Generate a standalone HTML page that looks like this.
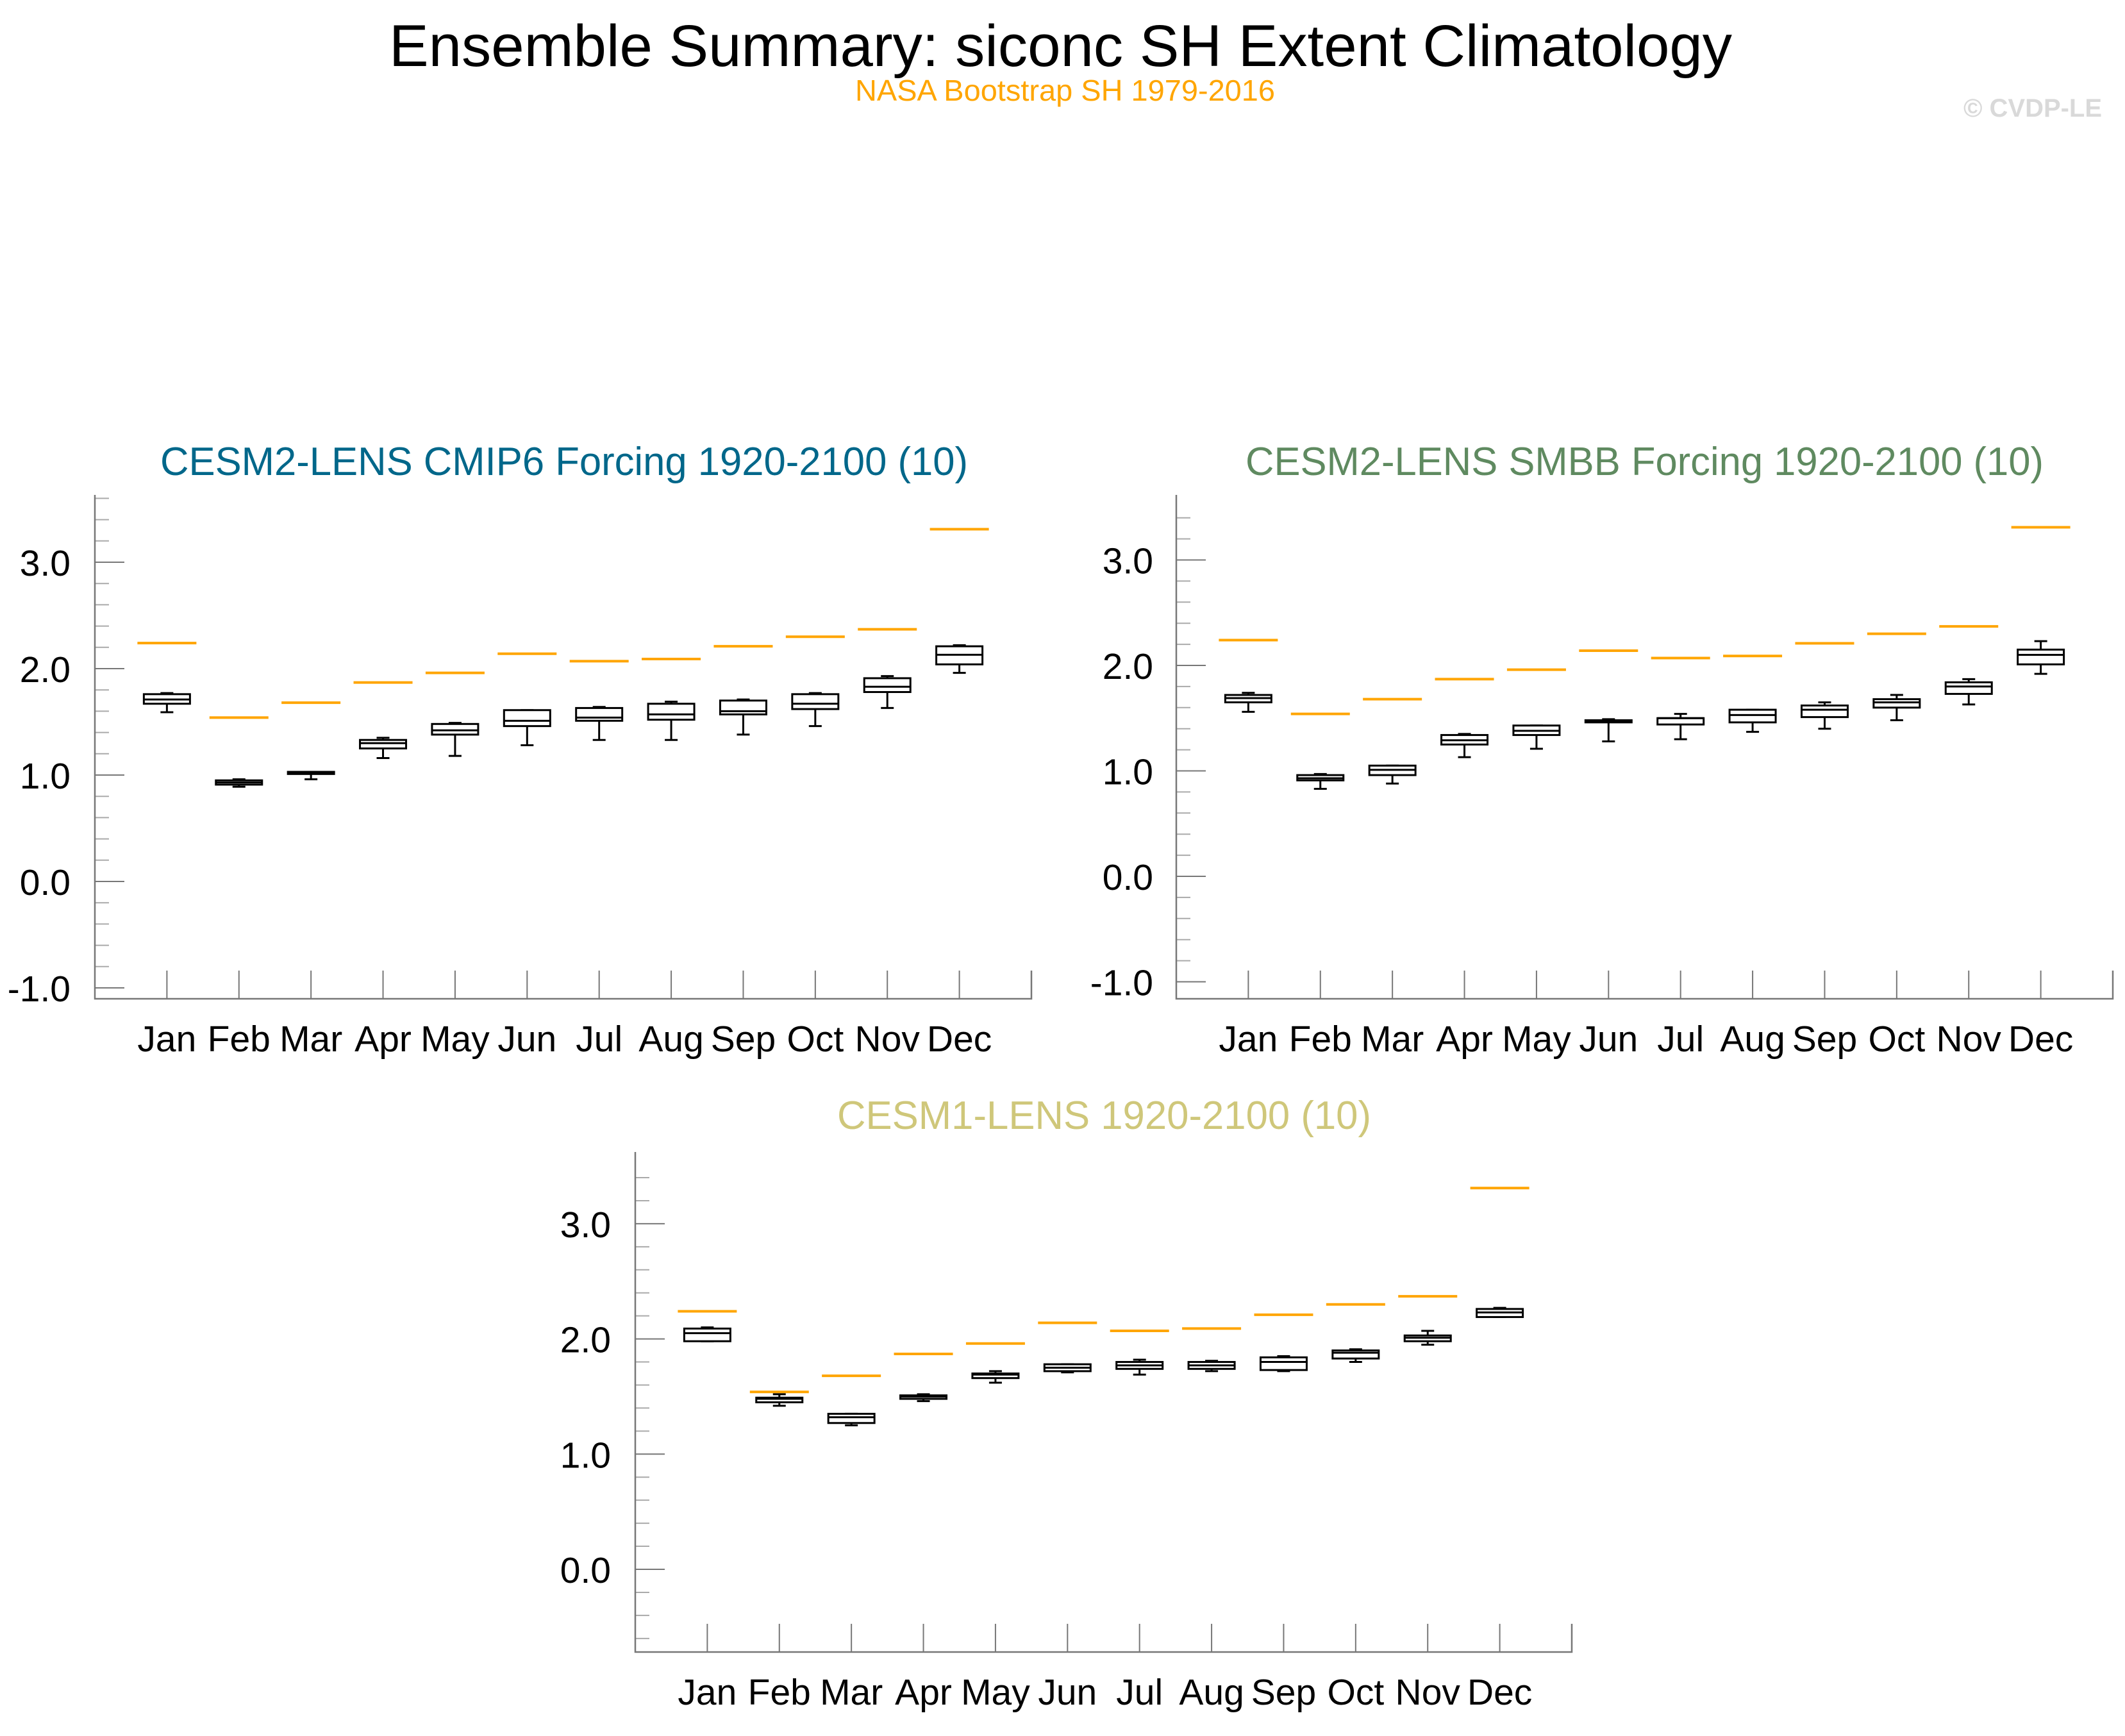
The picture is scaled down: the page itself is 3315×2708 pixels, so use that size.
<!DOCTYPE html>
<html><head><meta charset="utf-8">
<style>
html,body{margin:0;padding:0;background:#fff;}
svg{display:block;font-family:"Liberation Sans",Arial,sans-serif;}
</style></head>
<body>
<svg id="chart" width="3315" height="2708" viewBox="0 0 3315 2708" xmlns="http://www.w3.org/2000/svg">
<rect width="3315" height="2708" fill="#fff"/>
<text x="607" y="103" font-size="92" textLength="2095" lengthAdjust="spacingAndGlyphs" fill="#000">Ensemble Summary: siconc SH Extent Climatology</text>
<text x="1334" y="157" font-size="46" textLength="655" lengthAdjust="spacingAndGlyphs" fill="#FFA500">NASA Bootstrap SH 1979-2016</text>
<text x="3063" y="182" font-size="40" font-weight="bold" textLength="216" lengthAdjust="spacingAndGlyphs" fill="#d9d9d9">© CVDP-LE</text>
<g id="panels"></g>
</svg>
<script>
const months = ["Jan","Feb","Mar","Apr","May","Jun","Jul","Aug","Sep","Oct","Nov","Dec"];
const yTickValues = [-1, 0, 1, 2, 3];
const yTickLabels = ["-1.0","0.0","1.0","2.0","3.0"];
const obsValues = [2.24,1.54,1.68,1.87,1.96,2.14,2.07,2.09,2.21,2.30,2.37,3.31];

const p1Low  = [1.59,0.89,0.96,1.16,1.18,1.28,1.33,1.33,1.38,1.46,1.63,1.96];
const p1Q1   = [1.67,0.91,1.01,1.25,1.38,1.46,1.51,1.52,1.57,1.62,1.78,2.04];
const p1Med  = [1.71,0.93,1.02,1.30,1.42,1.51,1.54,1.57,1.60,1.67,1.83,2.13];
const p1Q3   = [1.76,0.95,1.03,1.33,1.48,1.61,1.63,1.67,1.70,1.76,1.91,2.21];
const p1High = [1.77,0.96,1.03,1.35,1.49,1.61,1.64,1.69,1.71,1.77,1.93,2.22];

const p2Low  = [1.56,0.83,0.88,1.13,1.21,1.28,1.30,1.37,1.40,1.48,1.63,1.92];
const p2Q1   = [1.65,0.91,0.96,1.25,1.34,1.46,1.44,1.46,1.51,1.60,1.73,2.01];
const p2Med  = [1.69,0.93,1.01,1.29,1.38,1.47,1.50,1.53,1.58,1.65,1.80,2.10];
const p2Q3   = [1.72,0.96,1.05,1.34,1.43,1.48,1.50,1.58,1.62,1.68,1.84,2.15];
const p2High = [1.74,0.97,1.05,1.35,1.43,1.49,1.54,1.58,1.65,1.72,1.87,2.23];

const p3Low  = [1.98,1.42,1.25,1.46,1.62,1.71,1.69,1.72,1.72,1.80,1.95,2.19];
const p3Q1   = [1.98,1.45,1.27,1.48,1.66,1.72,1.74,1.74,1.73,1.83,1.98,2.19];
const p3Med  = [2.05,1.48,1.32,1.50,1.69,1.75,1.77,1.77,1.80,1.88,2.01,2.23];
const p3Q3   = [2.09,1.49,1.35,1.51,1.70,1.78,1.80,1.80,1.84,1.90,2.03,2.26];
const p3High = [2.10,1.52,1.35,1.52,1.72,1.78,1.82,1.81,1.85,1.91,2.07,2.27];

const NS = "http://www.w3.org/2000/svg";
const root = document.getElementById("panels");
function mk(tag, attrs, parent){
  const e = document.createElementNS(NS, tag);
  for (const k in attrs) e.setAttribute(k, attrs[k]);
  parent.appendChild(e);
  return e;
}

function panel(cfg, low, q1, med, q3, high, idx){
  const g = mk("g", {}, root);
  
  
  const xs = i => cfg.left + (cfg.right - cfg.left) * (i + 1) / 13;
  const ys = v => cfg.y0 - v * cfg.unit;
  const t = mk("text", {x: cfg.tx, y: cfg.ty, "font-size": 62, fill: cfg.color, textLength: cfg.tw, lengthAdjust: "spacingAndGlyphs"}, g);
  t.textContent = cfg.title;
  
  
  for (let k = -10; k <= 20; k++) {
    const v = k * 0.2;
    const y = ys(v);
    if (y < cfg.top + 5 || y > cfg.bottom - 5) continue;
    const major = Math.abs(v - Math.round(v)) < 1e-6;
    const tk = mk("line", {x1: cfg.left, x2: cfg.left + (major ? 46 : 22), y1: y, y2: y, stroke: major ? "#777" : "#aaa", "stroke-width": 2}, g);
    
    
  }
  yTickValues.forEach((v, i) => {
    const y = ys(v);
    if (y > cfg.bottom || y < cfg.top) return;
    const lb = mk("text", {x: cfg.labelRight, y: y + 21, "font-size": 57, "text-anchor": "end", fill: "#000"}, g);
    lb.textContent = yTickLabels[i];
    
    
  });
  months.forEach((m, i) => {
    const x = xs(i);
    const tk = mk("line", {x1: x, x2: x, y1: cfg.bottom, y2: cfg.bottom - 44, stroke: "#777", "stroke-width": 2}, g);
    
    
    const lb = mk("text", {x: x, y: cfg.bottom + 82, "font-size": 57, "text-anchor": "middle", fill: "#000"}, g);
    lb.textContent = m;
    
    
  });
  const ax = mk("path", {d: `M${cfg.left},${cfg.top} V${cfg.bottom} H${cfg.right} V${cfg.bottom-44}`, fill: "none", stroke: "#777", "stroke-width": 2.5}, g);
  
  
  months.forEach((m, i) => {
    const x = xs(i);
    const ob = mk("line", {x1: x - 46, x2: x + 46, y1: ys(obsValues[i]), y2: ys(obsValues[i]), stroke: "#FFA500", "stroke-width": 4}, g);
    
    
    const bg = mk("g", {stroke: "#000", "stroke-width": 3, fill: "none"}, g);
    
    
    mk("line", {x1: x, x2: x, y1: ys(high[i]), y2: ys(q3[i])}, bg);
    mk("line", {x1: x, x2: x, y1: ys(q1[i]), y2: ys(low[i])}, bg);
    mk("line", {x1: x - 10, x2: x + 10, y1: ys(high[i]), y2: ys(high[i])}, bg);
    mk("line", {x1: x - 10, x2: x + 10, y1: ys(low[i]), y2: ys(low[i])}, bg);
    mk("rect", {x: x - 36, y: ys(q3[i]), width: 72, height: Math.max(1, ys(q1[i]) - ys(q3[i])), fill: "#fff"}, bg);
    mk("line", {x1: x - 36, x2: x + 36, y1: ys(med[i]), y2: ys(med[i])}, bg);
  });
}

panel({left:148,right:1609,top:772,bottom:1558,y0:1375,unit:166,labelRight:110,
  title:"CESM2-LENS CMIP6 Forcing 1920-2100 (10)",color:"#00678a",tx:250,ty:741,tw:1260},
  p1Low,p1Q1,p1Med,p1Q3,p1High,1);
panel({left:1835,right:3296,top:772,bottom:1558,y0:1367,unit:164.5,labelRight:1799,
  title:"CESM2-LENS SMBB Forcing 1920-2100 (10)",color:"#5f8a60",tx:1943,ty:741,tw:1245},
  p2Low,p2Q1,p2Med,p2Q3,p2High,2);
panel({left:991,right:2452,top:1797,bottom:2577,y0:2448,unit:179.7,labelRight:953,
  title:"CESM1-LENS 1920-2100 (10)",color:"#cfc77a",tx:1306,ty:1761,tw:833},
  p3Low,p3Q1,p3Med,p3Q3,p3High,3);
</script>
</body></html>
